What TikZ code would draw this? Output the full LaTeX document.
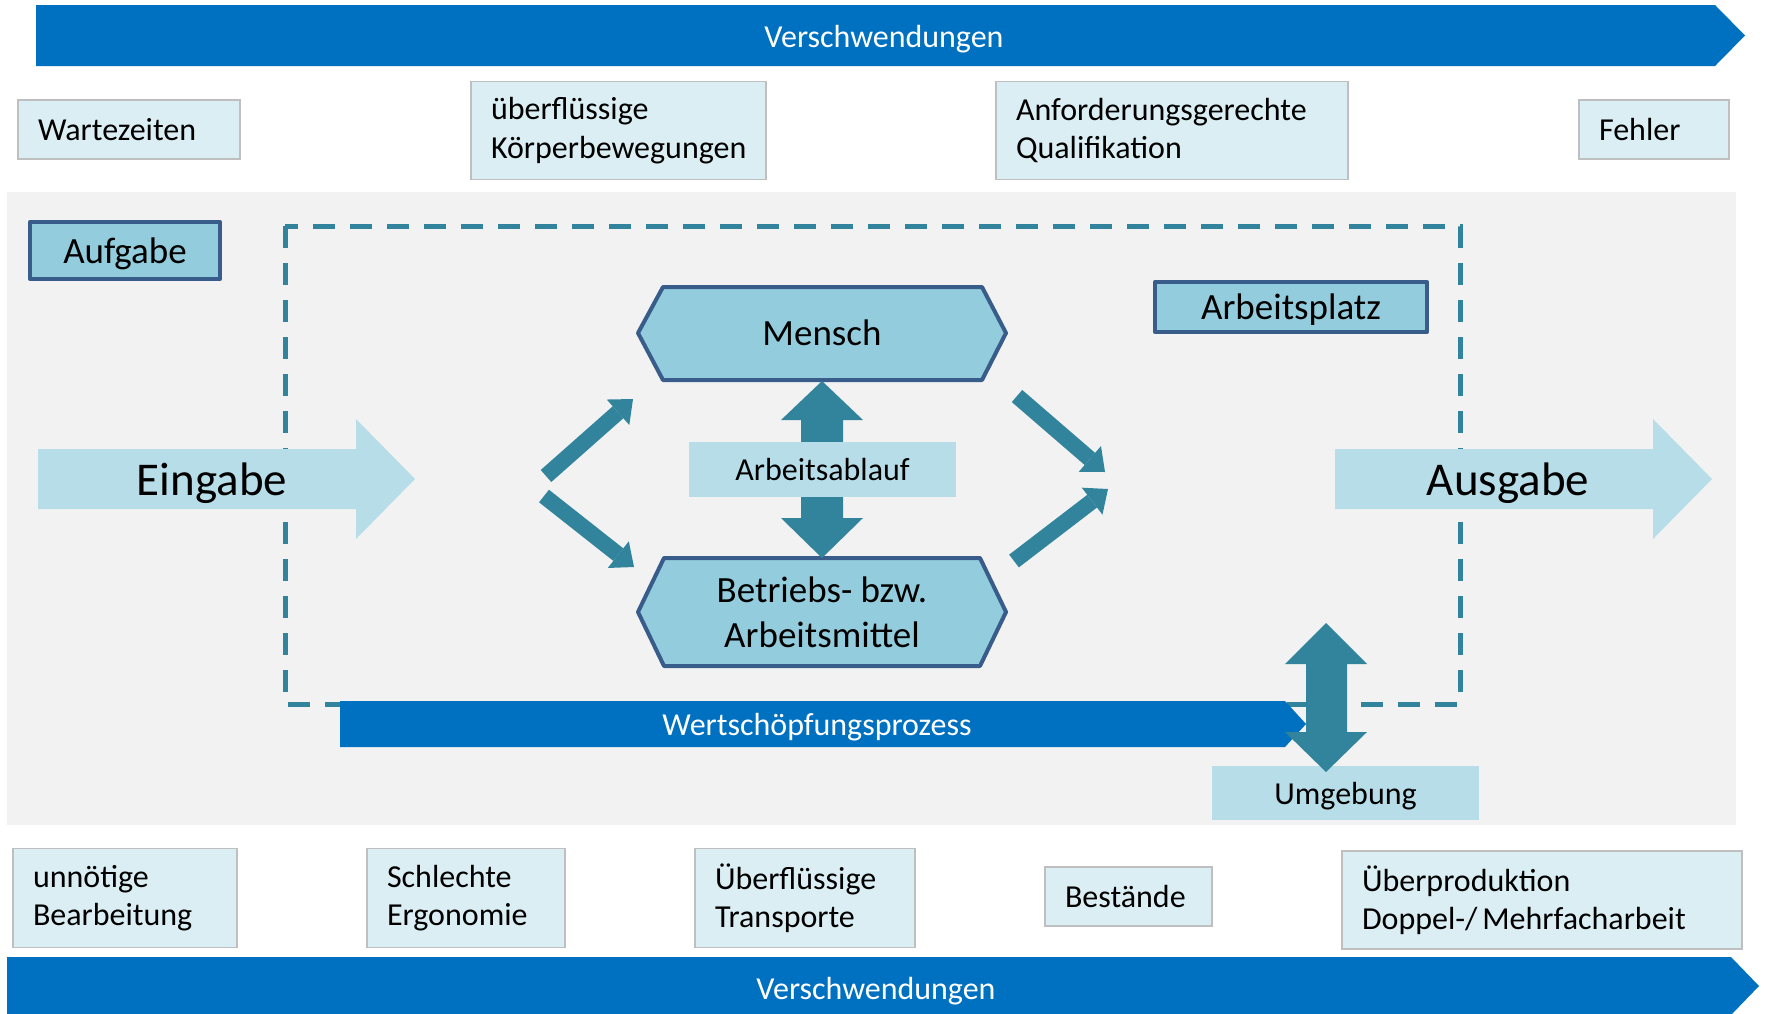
\documentclass[tikz,border=0pt]{standalone}
\usepackage{fontspec}
\setmainfont{Carlito}
\usetikzlibrary{arrows.meta}
\definecolor{barblue}{HTML}{0070C0}
\definecolor{flowteal}{HTML}{31849B}
\definecolor{palebox}{HTML}{DAEEF3}
\definecolor{arrowcyan}{HTML}{B7DEE8}
\definecolor{midcyan}{HTML}{93CDDD}
\definecolor{frameblue}{HTML}{385D8A}
\definecolor{boxgrey}{HTML}{BFBFBF}
\definecolor{bggrey}{HTML}{F2F2F2}
\newcommand{\smallfont}{\fontsize{16pt}{19.2pt}\selectfont}
\newcommand{\midfont}{\fontsize{18.5pt}{22.5pt}\selectfont}
\newcommand{\bigfont}{\fontsize{23.5pt}{28pt}\selectfont}

\tikzset{
  waste/.style={draw=boxgrey,fill=palebox,line width=0.8pt,inner xsep=10pt,inner ysep=0pt,align=left,font=\smallfont},
  element/.style={draw=frameblue,fill=midcyan,line width=2pt,line join=round},
  label/.style={font=\midfont,text height=14.5pt,text depth=2pt},
  barlabel/.style={text=white,font=\smallfont},
  diag/.style={draw=flowteal,line width=8pt,-{Triangle[width=17pt,length=10pt,line width=0pt]}},
}

\begin{document}
\begin{tikzpicture}[x=0.5pt,y=-0.5pt]
    \useasboundingbox (0,0) rectangle (1765,1013);
    % waste bars
    \fill[barblue] (36,5) -- (1715,5) -- (1745,35.5) -- (1715,66) -- (36,66) -- cycle;
    \node[barlabel] (topwaste) at (884,39.5) {Verschwendungen};
    \fill[barblue] (7,957) -- (1731,957) -- (1759,986) -- (1731,1015) -- (7,1015) -- cycle;
    \node[barlabel] (bottomwaste) at (876,991.5) {Verschwendungen};

    % upper waste boxes
    \node[waste,minimum width=111pt,minimum height=29.5pt,text width=91pt] (wait) at (129,129.5) {Wartezeiten};
    \node[waste,minimum width=147.5pt,minimum height=49pt,text width=127.5pt] (moves) at (618.5,130.5) {überflüssige\\Körperbewegungen};
    \node[waste,minimum width=176pt,minimum height=49pt,text width=156pt] (quali) at (1172,130.5) {Anforderungsgerechte\\Qualifikation};
    \node[waste,minimum width=75pt,minimum height=29.5pt,text width=55pt] (error) at (1654,129.5) {Fehler};

    % system area
    \fill[bggrey] (7,192) rectangle (1736,825);
    \draw[flowteal,line width=2.5pt,dash pattern=on 11pt off 7.5pt] (285,226) rectangle (1460,704);

    \node[element,label,minimum width=95pt,minimum height=28.5pt] (task) at (125,250.5) {Aufgabe};
    \node[element,label,minimum width=136pt,minimum height=25pt] (place) at (1291,307) {Arbeitsplatz};

    % input and output
    \fill[arrowcyan] (38,449) -- (356,449) -- (356,419) -- (415,479) -- (356,539) -- (356,509) -- (38,509) -- cycle;
    \node[font=\bigfont] (input) at (212,483.5) {Eingabe};
    \fill[arrowcyan] (1335,449) -- (1653,449) -- (1653,419) -- (1712,479) -- (1653,539) -- (1653,509) -- (1335,509) -- cycle;
    \node[font=\bigfont] (output) at (1508,483.5) {Ausgabe};

    % value stream
    \fill[barblue] (340,701) -- (1285,701) -- (1306,724) -- (1285,747) -- (340,747) -- cycle;
    \node[barlabel] (value) at (817,727) {Wertschöpfungsprozess};

    % man and means
    \draw[element] (638,333) -- (663,287) -- (982,287) -- (1006,333) -- (982,380) -- (663,380) -- cycle;
    \node[font=\midfont] (human) at (822,333) {Mensch};
    \draw[element] (638,612) -- (664,558) -- (980,558) -- (1006,612) -- (980,666) -- (664,666) -- cycle;
    \node[font=\midfont,align=center] (means) at (822,612) {Betriebs- bzw.\\Arbeitsmittel};

    \fill[flowteal] (822,381) -- (863,420) -- (843,420) -- (843,518) -- (863,518) -- (822,558) -- (781,518) -- (801,518) -- (801,420) -- (781,420) -- cycle;
    \node[fill=arrowcyan,minimum width=133.5pt,minimum height=27.5pt,font=\smallfont] (flow) at (822.5,469.5) {Arbeitsablauf};

    % environment
    \node[fill=arrowcyan,minimum width=133.5pt,minimum height=27pt,font=\smallfont,text height=14pt,text depth=2.5pt] (env) at (1345.5,793) {Umgebung};
    \fill[flowteal] (1326,623) -- (1367,664) -- (1347,664) -- (1347,732) -- (1367,732) -- (1326,772) -- (1285,732) -- (1306,732) -- (1306,664) -- (1285,664) -- cycle;

    % split and merge
    \coordinate (splitA) at (546,476);
    \coordinate (splitB) at (633,399);
    \coordinate (splitC) at (544,496);
    \coordinate (splitD) at (634,567);
    \coordinate (mergeA) at (1017,396);
    \coordinate (mergeB) at (1105,472);
    \coordinate (mergeC) at (1014,561);
    \coordinate (mergeD) at (1108,489);
    \draw[diag] (splitA) -- (splitB);
    \draw[diag] (splitC) -- (splitD);
    \draw[diag] (mergeA) -- (mergeB);
    \draw[diag] (mergeC) -- (mergeD);

    % lower waste boxes
    \node[waste,minimum width=112pt,minimum height=49.5pt,text width=92pt] (rework) at (125,898) {unnötige\\Bearbeitung};
    \node[waste,minimum width=99pt,minimum height=49.5pt,text width=79pt] (ergo) at (466,898) {Schlechte\\Ergonomie};
    \node[waste,minimum width=110pt,minimum height=49.5pt,text width=90pt] (transport) at (805,898) {Überflüssige\\Transporte};
    \node[waste,minimum width=83.5pt,minimum height=29.5pt,text width=63.5pt] (stock) at (1128.5,896.5) {Bestände};
    \node[waste,minimum width=200pt,minimum height=49pt,text width=180pt] (overprod) at (1542,900) {Überproduktion\\Doppel-/\hspace{0.15em}Mehrfacharbeit};
\end{tikzpicture}
\end{document}
